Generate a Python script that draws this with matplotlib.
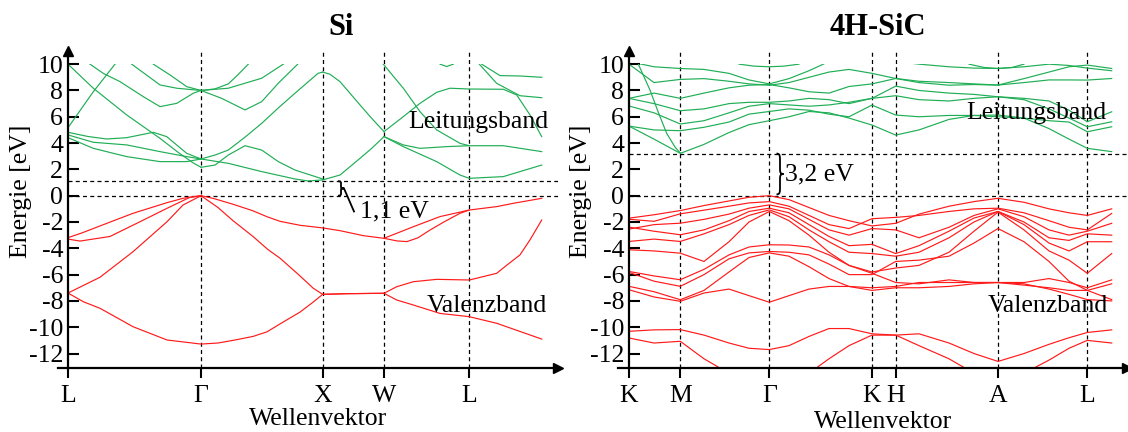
import numpy as np
import matplotlib
matplotlib.use("Agg")
import matplotlib.pyplot as plt
from matplotlib.patches import Rectangle
from matplotlib.path import Path
from matplotlib.patches import PathPatch

plt.rcParams['font.family'] = ['Liberation Serif', 'DejaVu Serif']
plt.rcParams['axes.unicode_minus'] = False

# ---------------- data ----------------
SI_KPTS = [0.0, 1.33, 2.547, 3.16, 4.013]
SI_KLABELS = ['L', 'Γ', 'X', 'W', 'L']
SI_GAP = 1.1

SIC_KPTS = [0.0, 0.513, 1.403, 2.43, 2.667, 3.69, 4.583]
SIC_KLABELS = ['K', 'M', 'Γ', 'K', 'H', 'A', 'L']
SIC_GAP = 3.2

YTICKS = [10, 8, 6, 4, 2, 0, -2, -4, -6, -8, -10, -12]

# Si valence bands: (k, E)
SI_VALENCE = [
    ([0, 0.15, 0.32, 0.65, 0.99, 1.15, 1.33, 1.45, 1.65, 1.85, 1.99, 2.12, 2.32, 2.547, 2.72, 2.953, 3.16, 3.453, 3.72, 4.013, 4.287, 4.453, 4.737],
     [-3.19, -2.8, -2.3, -1.34, -0.53, -0.2, 0, -0.2, -0.65, -1.15, -1.6, -1.95, -2.25, -2.45, -2.66, -3.04, -3.24, -2.36, -1.59, -1.09, -0.83, -0.58, -0.2]),
    ([0, 0.12, 0.42, 0.72, 0.99, 1.22, 1.33],
     [-3.3, -3.45, -3.1, -1.98, -0.96, -0.12, 0]),
    ([3.16, 3.29, 3.39, 3.5, 3.62, 3.77, 3.92, 4.013],
     [-3.24, -3.44, -3.49, -3.2, -2.61, -1.95, -1.34, -1.09]),
    ([0, 0.32, 0.65, 0.82, 0.99, 1.15, 1.33, 1.5, 1.65, 1.85, 2.0, 2.12, 2.32, 2.453, 2.547, 2.787, 3.16, 3.287, 3.453, 3.687, 4.013, 4.287, 4.37, 4.52, 4.62, 4.737],
     [-7.4, -6.2, -4.26, -3.12, -1.98, -0.71, 0, -0.9, -1.9, -3.1, -4.1, -4.75, -6.1, -7.04, -7.5, -7.45, -7.42, -6.92, -6.54, -6.36, -6.41, -5.9, -5.39, -4.5, -3.36, -1.85]),
    ([0, 0.153, 0.32, 0.65, 0.99, 1.33, 1.5, 1.65, 1.85, 1.99, 2.12, 2.32, 2.45, 2.547, 2.787, 3.16, 3.287, 3.453, 3.72, 4.013, 4.287, 4.737],
     [-7.4, -8.06, -8.56, -9.96, -10.97, -11.28, -11.2, -11.0, -10.7, -10.35, -9.75, -8.85, -8.1, -7.5, -7.45, -7.42, -7.93, -8.31, -8.95, -9.2, -9.7, -10.9]),
]

# Si conduction bands: (k, E)
SI_CONDUCTION = [
    ([0, 0.253, 0.587, 0.92, 1.1, 1.25, 1.33], [10, 8.17, 6.14, 4.36, 3.3, 2.5, 2.16]),
    ([1.33, 1.47, 1.603, 1.77, 1.937, 2.103, 2.27, 2.547], [2.16, 2.33, 3.09, 3.8, 3.47, 2.59, 1.95, 1.27]),
    ([0, 0.2, 0.387, 0.587, 0.853, 0.987, 1.187, 1.33], [4.82, 4.5, 4.31, 4.41, 4.82, 4.49, 3.22, 2.79]),
    ([1.33, 1.603, 1.937, 2.27, 2.4, 2.547], [2.79, 2.46, 1.83, 1.27, 1.12, 1.2]),
    ([0, 0.253, 0.587, 0.92, 1.187, 1.33], [4.62, 4.06, 3.86, 3.35, 2.97, 2.79]),
    ([1.33, 1.47, 1.603, 1.77, 1.937, 2.1, 2.27, 2.5, 2.547], [2.79, 3.09, 3.47, 4.45, 5.5, 6.65, 7.79, 9.3, 9.4]),
    ([0, 0.253, 0.587, 0.92, 1.187, 1.33], [4.41, 3.6, 2.97, 2.59, 2.59, 2.79]),
    ([0, 0.253, 0.47], [5.17, 7.9, 10]),
    ([0.22, 0.353, 0.52, 0.753, 0.92, 1.087, 1.253, 1.33], [10, 9.3, 8.67, 7.53, 6.77, 7.02, 7.79, 8.0]),
    ([0.637, 0.92, 1.087, 1.33], [10, 8.42, 8.17, 8.0]),
    ([0.853, 1.02, 1.187, 1.33], [10, 9.18, 8.29, 8.0]),
    ([1.33, 1.47, 1.603, 1.7, 1.803], [8.0, 8.12, 8.5, 9.2, 10]),
    ([1.33, 1.603, 1.937, 2.153], [8.0, 8.17, 8.93, 10]),
    ([1.33, 1.537, 1.77, 1.937, 2.103, 2.297], [8.0, 7.4, 6.52, 7.15, 8.55, 10]),
    ([2.547, 2.62, 2.72, 2.92, 3.037, 3.16], [9.4, 9.23, 8.67, 6.9, 5.88, 4.87]),
    ([2.547, 2.72, 2.92, 3.037, 3.16], [1.2, 1.57, 2.84, 3.6, 4.49]),
    ([3.153, 3.353, 3.52, 3.687, 3.92, 4.013, 4.353, 4.737], [10, 8.17, 6.39, 5.0, 3.98, 3.8, 3.8, 3.35]),
    ([3.16, 3.353, 3.52, 3.687, 3.82, 4.013, 4.353, 4.487, 4.62, 4.737], [4.87, 6.01, 7.02, 7.86, 8.17, 8.11, 8.09, 7.66, 6.14, 4.49]),
    ([3.16, 3.353, 3.52, 3.787, 4.013], [4.49, 3.86, 3.6, 3.73, 3.8]),
    ([3.16, 3.353, 3.687, 3.92, 4.013, 4.353, 4.737], [4.49, 3.73, 2.59, 1.57, 1.32, 1.45, 2.33]),
    ([4.137, 4.32, 4.52, 4.737], [10, 9.13, 9.1, 9.0]),
    ([4.113, 4.287, 4.52, 4.737], [10, 8.54, 7.6, 7.45]),
    ([3.72, 3.787, 3.853], [10, 9.82, 10]),
]

# 4H-SiC bands sampled on a common k grid
SIC_KGRID = [0, 0.25, 0.513, 0.75, 1.0, 1.2, 1.403, 1.6, 1.8, 2.0, 2.2, 2.43, 2.667, 2.9, 3.2, 3.45, 3.69, 3.95, 4.2, 4.4, 4.583, 4.827]

SIC_VALENCE = [
    [-1.71, -1.45, -1.13, -0.75, -0.4, -0.12, 0, -0.3, -0.9, -1.5, -1.9, -2.3, -2.1, -1.4, -0.8, -0.45, -0.2, -0.5, -1.0, -1.3, -1.5, -1.0],
    [-1.79, -1.95, -1.38, -1.1, -0.8, -0.55, -0.45, -0.8, -1.5, -2.2, -2.5, -1.75, -1.65, -1.5, -1.2, -1.0, -0.95, -1.3, -1.9, -2.4, -2.6, -1.35],
    [-2.54, -2.2, -2.09, -1.8, -1.4, -0.95, -0.7, -1.0, -1.8, -2.6, -3.0, -2.5, -2.6, -3.2, -2.4, -1.5, -1.0, -1.6, -2.6, -3.0, -2.7, -2.1],
    [-2.39, -2.7, -2.97, -2.6, -1.9, -1.2, -0.95, -1.3, -2.2, -3.1, -3.8, -3.7, -4.4, -3.8, -2.7, -1.7, -1.2, -2.0, -3.2, -3.4, -2.9, -3.0],
    [-3.48, -3.3, -3.48, -2.9, -2.2, -1.5, -1.08, -1.6, -2.6, -3.5, -4.3, -4.4, -4.6, -4.3, -3.2, -2.0, -1.2, -2.2, -3.6, -4.2, -3.5, -3.5],
    [-4.11, -4.2, -4.37, -5.0, -3.5, -2.0, -1.2, -1.9, -3.0, -4.3, -5.3, -5.8, -5.5, -5.3, -4.3, -2.7, -1.25, -2.6, -4.2, -4.9, -5.9, -4.4],
    [-5.76, -6.1, -6.39, -5.6, -4.5, -3.9, -3.73, -3.75, -3.9, -4.5, -5.3, -5.9, -6.6, -6.7, -6.4, -6.6, -6.6, -6.6, -6.3, -6.6, -7.0, -6.4],
    [-5.83, -6.5, -6.89, -6.0, -4.8, -4.35, -4.24, -4.3, -4.5, -5.2, -6.0, -6.0, -5.0, -4.9, -4.6, -3.6, -2.5, -3.5, -5.0, -6.5, -7.2, -6.7],
    [-6.89, -7.3, -7.91, -7.2, -5.8, -4.7, -4.35, -4.6, -5.4, -6.3, -6.9, -7.2, -7.0, -7.0, -6.9, -6.7, -6.6, -6.8, -7.0, -7.2, -7.2, -7.9],
    [-7.15, -7.7, -8.03, -7.4, -7.1, -7.6, -8.1, -7.6, -7.1, -6.9, -6.9, -7.0, -6.9, -6.6, -6.6, -6.6, -6.6, -6.7, -7.1, -7.5, -7.9, -8.0],
    [-10.31, -10.2, -10.18, -10.6, -11.2, -11.6, -11.7, -11.4, -10.7, -10.1, -10.1, -10.5, -10.6, -10.5, -11.2, -12.0, -12.6, -12.0, -11.3, -10.8, -10.4, -10.2],
    [-10.82, -11.2, -11.07, -12.4, -13.5, -14, -14, -14, -13.5, -12.4, -11.4, -10.6, -10.6, -11.4, -12.4, -13.5, -14, -13.5, -12.5, -11.6, -11.0, -11.2],
]

SIC_CONDUCTION = [
    [5.29, 4.3, 3.22, 3.9, 4.8, 5.4, 5.7, 6.0, 6.4, 6.3, 5.9, 5.37, 4.61, 5.0, 5.8, 6.1, 6.13, 5.9, 5.1, 4.3, 3.6, 3.35],
    [5.29, 5.0, 4.94, 5.2, 5.6, 6.2, 6.4, 6.6, 6.5, 6.2, 6.0, 6.89, 6.13, 6.0, 6.1, 6.1, 6.0, 5.9, 5.7, 5.6, 4.86, 5.24],
    [6.82, 6.3, 5.45, 5.7, 6.3, 6.8, 7.0, 6.9, 6.8, 6.9, 7.1, 7.4, 7.6, 7.3, 7.2, 7.4, 7.52, 7.3, 6.6, 5.9, 5.24, 5.62],
    [7.4, 7.0, 6.46, 6.6, 7.0, 7.1, 7.1, 7.2, 7.4, 7.3, 7.0, 7.4, 8.33, 8.0, 7.8, 7.7, 7.52, 7.4, 7.2, 6.5, 5.62, 6.38],
    [7.4, 7.8, 7.4, 7.8, 8.2, 8.4, 8.45, 8.2, 7.9, 7.8, 8.3, 8.5, 8.91, 8.6, 8.4, 8.45, 8.41, 8.6, 8.8, 8.8, 8.79, 8.91],
    [10.0, 8.6, 8.84, 8.9, 8.7, 8.5, 8.4, 8.6, 9.0, 9.4, 9.6, 9.3, 8.91, 8.7, 8.6, 8.5, 8.41, 8.9, 9.4, 9.8, 9.93, 9.67],
    [10.2, 9.8, 9.67, 9.6, 9.3, 8.8, 8.5, 8.9, 9.5, 10.2, 10.3, 10.3, 10.2, 10.0, 9.8, 9.7, 9.67, 9.8, 10.0, 9.9, 9.7, 9.5],
]

# separate short conduction branches of 4H-SiC: (k, E)
SIC_CONDUCTION_EXTRA = [
    ([0.093, 0.21, 0.3, 0.377, 0.46, 0.513], [10, 8.03, 6.2, 4.74, 3.7, 3.25]),
    ([1.1, 1.25, 1.403, 1.55, 1.7], [10, 9.85, 9.8, 9.85, 10]),
    ([3.4, 3.55, 3.69, 3.83, 3.95], [10, 9.75, 9.67, 9.75, 10]),
]

TXT_CB = 'Leitungsband'
TXT_VB = 'Valenzband'
TXT_SI_GAP = '1,1 eV'
TXT_SIC_GAP = '3,2 eV'

GREEN = '#1fae55'
RED = '#ff1a1a'
FS = 18.5

# ---------------- figure ----------------
W, H = 1128, 432
fig = plt.figure(figsize=(W / 100, H / 100), dpi=100)

def px_axes(x0, x1, ytop, ybot):
    return fig.add_axes([x0 / W, 1 - ybot / H, (x1 - x0) / W, (ybot - ytop) / H])

ax1 = px_axes(58, 558, 51, 368)
ax2 = px_axes(618, 1127, 51, 368)

YLIM = (-13.1, 11.0)

def setup(ax, kpts, labels, xlim, gap):
    ax.set_xlim(*xlim)
    ax.set_ylim(*YLIM)
    for s in ['top', 'right']:
        ax.spines[s].set_visible(False)
    ax.spines['left'].set_position(('data', 0))
    for s in ['left', 'bottom']:
        ax.spines[s].set_linewidth(1.6)
    ax.set_xticks(kpts)
    ax.set_xticklabels(labels)
    ax.set_yticks(YTICKS)
    ax.set_yticklabels([str(v) for v in YTICKS])
    ax.tick_params(axis='y', direction='in', length=8, width=1.5, pad=3.5, labelsize=FS)
    ax.tick_params(axis='x', direction='out', length=7.5, width=1.5, pad=5, labelsize=FS)
    ax.patch.set_visible(False)
    dash = (0, (3.2, 2.6))
    for k in kpts[1:]:
        ax.axvline(k, color='k', lw=0.9, ls=dash, zorder=1)
    ax.hlines([0, gap], 0, xlim[1], color='k', lw=0.9, ls=dash, zorder=1)
    ax.plot([1], [0], marker='>', ms=7, color='k', transform=ax.transAxes, clip_on=False)
    ax.plot([0], [1], marker='^', ms=7, color='k', transform=ax.get_xaxis_transform(), clip_on=False)
    clip = Rectangle((xlim[0], YLIM[0]), xlim[1] - xlim[0], 10.0 - YLIM[0],
                     transform=ax.transData, fill=False, visible=False)
    ax.add_patch(clip)
    return clip

clip1 = setup(ax1, SI_KPTS, SI_KLABELS, (-0.10, 4.90), SI_GAP)
clip2 = setup(ax2, SIC_KPTS, SIC_KLABELS, (-0.11, 4.98), SIC_GAP)

def draw(ax, clip, k, e, color):
    ln, = ax.plot(k, e, color=color, lw=0.85, zorder=2)
    ln.set_clip_path(clip)

for k, e in SI_VALENCE:
    draw(ax1, clip1, k, e, RED)
for k, e in SI_CONDUCTION:
    draw(ax1, clip1, k, e, GREEN)
for e in SIC_VALENCE:
    draw(ax2, clip2, SIC_KGRID, e, RED)
for e in SIC_CONDUCTION:
    draw(ax2, clip2, SIC_KGRID, e, GREEN)
for k, e in SIC_CONDUCTION_EXTRA:
    draw(ax2, clip2, k, e, GREEN)

def brace(ax, x, y0, y1, w):
    h = y1 - y0
    ym = 0.5 * (y0 + y1)
    verts = [(x, y1), (x + w / 2, y1), (x + w / 2, y1 - 0.05 * h), (x + w / 2, y1 - 0.2 * h),
             (x + w / 2, ym + 0.12 * h),
             (x + w / 2, ym + 0.03 * h), (x + 0.6 * w, ym), (x + w, ym),
             (x + 0.6 * w, ym), (x + w / 2, ym - 0.03 * h), (x + w / 2, ym - 0.12 * h),
             (x + w / 2, y0 + 0.2 * h),
             (x + w / 2, y0 + 0.05 * h), (x + w / 2, y0), (x, y0)]
    codes = [Path.MOVETO, Path.CURVE4, Path.CURVE4, Path.CURVE4, Path.LINETO,
             Path.CURVE4, Path.CURVE4, Path.CURVE4, Path.CURVE4, Path.CURVE4, Path.CURVE4,
             Path.LINETO, Path.CURVE4, Path.CURVE4, Path.CURVE4]
    ax.add_patch(PathPatch(Path(verts, codes), fill=False, lw=1.3, color='k', zorder=3))

# gap annotations
brace(ax1, 2.70, 0.0, SI_GAP, 0.06)
ax1.plot([2.76, 2.86], [SI_GAP / 2, -1.2], color='k', lw=1.3, zorder=3)
ax1.text(2.92, -1.2, TXT_SI_GAP, fontsize=FS, ha='left', va='center')
brace(ax2, 1.475, 0.1, SIC_GAP, 0.07)
ax2.text(1.56, 1.65, TXT_SIC_GAP, fontsize=FS, ha='left', va='center')

ax1.text(4.10, 5.6, TXT_CB, fontsize=FS, ha='center', va='center')
ax1.text(4.19, -8.4, TXT_VB, fontsize=FS, ha='center', va='center')
ax2.text(4.07, 6.3, TXT_CB, fontsize=FS, ha='center', va='center')
ax2.text(4.19, -8.4, TXT_VB, fontsize=FS, ha='center', va='center')

def ftext(x, y, s, **kw):
    fig.text(x / W, 1 - y / H, s, **kw)

ftext(341, 35, 'Si', fontsize=22, fontweight='bold', ha='center', va='baseline')
ftext(878, 35, '4H-SiC', fontsize=22, fontweight='bold', ha='center', va='baseline')
ftext(318, 425, 'Wellenvektor', fontsize=FS, ha='center', va='baseline')
ftext(883, 428, 'Wellenvektor', fontsize=FS, ha='center', va='baseline')
ftext(21, 191, 'Energie [eV]', fontsize=FS, ha='center', va='center', rotation=90)
ftext(581, 191, 'Energie [eV]', fontsize=FS, ha='center', va='center', rotation=90)

fig.savefig('out.png', dpi=100)
